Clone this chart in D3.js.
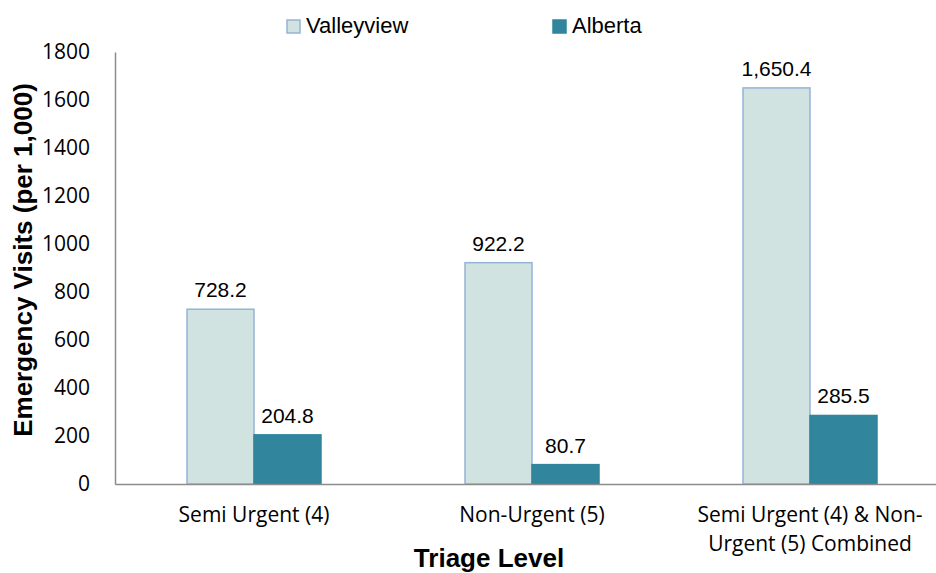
<!DOCTYPE html>
<html>
<head>
<meta charset="utf-8">
<script src="https://cdn.jsdelivr.net/npm/d3@7"></script>
<style>
  html, body { margin: 0; padding: 0; background: #fff; }
  svg { display: block; }
</style>
</head>
<body>
<svg id="chart" width="936" height="573"></svg>
<script>
const categories = [["Semi Urgent (4)"], ["Non-Urgent (5)"], ["Semi Urgent (4) & Non-", "Urgent (5) Combined"]];
const categoryKeys = ["Semi Urgent (4)", "Non-Urgent (5)", "Combined"];
const seriesNames = ["Valleyview", "Alberta"];
const valleyview = [728.2, 922.2, 1650.4];
const alberta = [204.8, 80.7, 285.5];
const yTicks = [0, 200, 400, 600, 800, 1000, 1200, 1400, 1600, 1800];
const yTitle = "Emergency Visits (per 1,000)";
const xTitle = "Triage Level";

(function () {
const svg = d3.select("#chart");
const mLeft = 115, mRight = 949, mTop = 52, mBottom = 484;

const x = d3.scaleBand().domain(categoryKeys).range([mLeft, mRight]).padding(0);
const groupW = x.bandwidth() * 0.482;
const xs = d3.scaleBand().domain(seriesNames).range([(x.bandwidth() - groupW) / 2, (x.bandwidth() + groupW) / 2]).padding(0);
const y = d3.scaleLinear().domain([0, 1800]).range([mBottom, mTop]);

const fills = { Valleyview: "#D0E3E1", Alberta: "#31859C" };
const strokes = { Valleyview: "#95B3D7", Alberta: "#31859C" };
const values = { Valleyview: valleyview, Alberta: alberta };
const fmt = d3.format(",.1f");

// Y axis
const yAxis = d3.axisLeft(y).tickValues(yTicks).tickSize(0).tickPadding(25).tickFormat(d3.format("d"));
const gy = svg.append("g").attr("transform", `translate(${mLeft},0)`).call(yAxis);
gy.select(".domain").attr("stroke", "#8C8C8C").attr("stroke-width", 1.5);
gy.selectAll("text").attr("font-family", "'Open Sans', sans-serif").attr("font-size", 21).attr("fill", "#000");

// Bars
categoryKeys.forEach((c, i) => {
  seriesNames.forEach(s => {
    const v = values[s][i];
    svg.append("rect")
      .attr("x", x(c) + xs(s))
      .attr("y", y(v))
      .attr("width", xs.bandwidth())
      .attr("height", y(0) - y(v))
      .attr("fill", fills[s])
      .attr("stroke", strokes[s])
      .attr("stroke-width", 1.5);
    svg.append("text")
      .attr("x", x(c) + xs(s) + xs.bandwidth() / 2)
      .attr("y", y(v) - 12)
      .attr("text-anchor", "middle")
      .attr("font-family", "'Liberation Sans', Arial, sans-serif")
      .attr("font-size", 21)
      .attr("fill", "#000")
      .text(fmt(v));
  });
});

// X axis
const gx = svg.append("g").attr("transform", `translate(0,${mBottom})`)
  .call(d3.axisBottom(x).tickSize(0).tickFormat(""));
gx.select(".domain").attr("stroke", "#8C8C8C").attr("stroke-width", 1.5);

categoryKeys.forEach((c, i) => {
  const t = svg.append("text")
    .attr("text-anchor", "middle")
    .attr("font-family", "'Open Sans', sans-serif")
    .attr("font-size", 21)
    .attr("fill", "#000");
  categories[i].forEach((line, j) => {
    t.append("tspan").attr("x", x(c) + x.bandwidth() / 2).attr("y", 522 + j * 29).text(line);
  });
});

// Axis titles
svg.append("text")
  .attr("transform", `translate(32,260) rotate(-90)`)
  .attr("text-anchor", "middle")
  .attr("font-family", "'Liberation Sans', Arial, sans-serif")
  .attr("font-weight", "bold")
  .attr("font-size", 26)
  .attr("fill", "#000")
  .text(yTitle);

svg.append("text")
  .attr("x", 489).attr("y", 567)
  .attr("text-anchor", "middle")
  .attr("font-family", "'Liberation Sans', Arial, sans-serif")
  .attr("font-weight", "bold")
  .attr("font-size", 26)
  .attr("fill", "#000")
  .text(xTitle);

// Legend
const legendX = [287, 553];
seriesNames.forEach((s, i) => {
  svg.append("rect")
    .attr("x", legendX[i]).attr("y", 20)
    .attr("width", 13).attr("height", 13)
    .attr("fill", fills[s])
    .attr("stroke", strokes[s])
    .attr("stroke-width", 1.5);
  svg.append("text")
    .attr("x", legendX[i] + 19).attr("y", 33)
    .attr("font-family", "'Liberation Sans', Arial, sans-serif")
    .attr("font-size", 22)
    .attr("fill", "#000")
    .text(s);
});
})();
</script>
</body>
</html>
